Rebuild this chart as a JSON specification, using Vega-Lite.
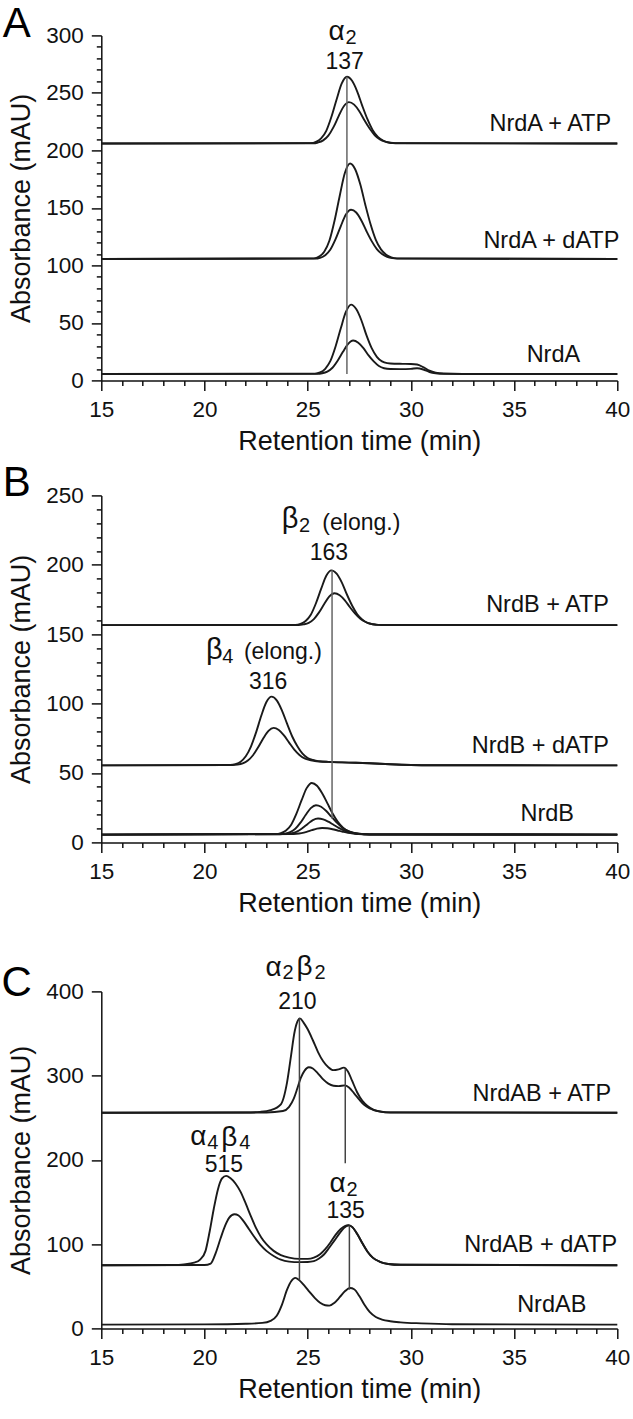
{
"$schema": "https://vega.github.io/schema/vega-lite/v6.json",
"background": "white",
"padding": {"left": 1.3, "top": 2.4, "right": 0, "bottom": 0},
"config": {
  "view": {"stroke": null},
  "font": "Liberation Sans",
  "axis": {"domainColor": "#111", "domainWidth": 1.5, "tickColor": "#111", "tickWidth": 1.5, "labelColor": "#111", "titleColor": "#111", "labelFont": "Liberation Sans", "titleFont": "Liberation Sans", "labelFontSize": 22.5, "titleFontSize": 27, "titleFontWeight": "normal", "grid": false, "labelOverlap": false, "labelFlush": false, "labelPadding": 8},
  "axisX": {"titlePadding": 8},
  "axisY": {"titlePadding": 10}
},
"datasets": {
"curvesA": [
{"trace":"ATP1","t":15,"a":206},{"trace":"ATP1","t":25.15,"a":206.3},{"trace":"ATP1","t":25.4,"a":207.4},{"trace":"ATP1","t":25.65,"a":210.4},{"trace":"ATP1","t":25.9,"a":217},{"trace":"ATP1","t":26.15,"a":229.2},{"trace":"ATP1","t":26.4,"a":244.3},{"trace":"ATP1","t":26.65,"a":258.2},{"trace":"ATP1","t":26.9,"a":264},{"trace":"ATP1","t":27.15,"a":260.5},{"trace":"ATP1","t":27.4,"a":251.2},{"trace":"ATP1","t":27.65,"a":238.5},{"trace":"ATP1","t":27.9,"a":226.9},{"trace":"ATP1","t":28.15,"a":217.6},{"trace":"ATP1","t":28.4,"a":211.8},{"trace":"ATP1","t":28.65,"a":208.6},{"trace":"ATP1","t":28.9,"a":207},{"trace":"ATP1","t":29.15,"a":206.3},{"trace":"ATP1","t":40,"a":206},
{"trace":"ATP2","t":15,"a":206},{"trace":"ATP2","t":25.25,"a":206.2},{"trace":"ATP2","t":25.5,"a":206.9},{"trace":"ATP2","t":25.75,"a":208.7},{"trace":"ATP2","t":26,"a":212.8},{"trace":"ATP2","t":26.25,"a":220.2},{"trace":"ATP2","t":26.5,"a":229.8},{"trace":"ATP2","t":26.75,"a":238.4},{"trace":"ATP2","t":27,"a":242},{"trace":"ATP2","t":27.25,"a":239.8},{"trace":"ATP2","t":27.5,"a":234.1},{"trace":"ATP2","t":27.75,"a":226.2},{"trace":"ATP2","t":28,"a":219},{"trace":"ATP2","t":28.25,"a":213.2},{"trace":"ATP2","t":28.5,"a":209.6},{"trace":"ATP2","t":28.75,"a":207.6},{"trace":"ATP2","t":29,"a":206.6},{"trace":"ATP2","t":29.25,"a":206.2},{"trace":"ATP2","t":40,"a":206},
{"trace":"dATP1","t":15,"a":105.6},{"trace":"dATP1","t":25.3,"a":106.1},{"trace":"dATP1","t":25.55,"a":107.6},{"trace":"dATP1","t":25.8,"a":111.9},{"trace":"dATP1","t":26.05,"a":121.4},{"trace":"dATP1","t":26.3,"a":138.8},{"trace":"dATP1","t":26.55,"a":160.4},{"trace":"dATP1","t":26.8,"a":180.3},{"trace":"dATP1","t":27.05,"a":188.6},{"trace":"dATP1","t":27.3,"a":183.6},{"trace":"dATP1","t":27.55,"a":170.3},{"trace":"dATP1","t":27.8,"a":152.1},{"trace":"dATP1","t":28.05,"a":135.5},{"trace":"dATP1","t":28.3,"a":122.2},{"trace":"dATP1","t":28.55,"a":113.9},{"trace":"dATP1","t":28.8,"a":109.3},{"trace":"dATP1","t":29.05,"a":107},{"trace":"dATP1","t":29.3,"a":106.1},{"trace":"dATP1","t":40,"a":105.6},
{"trace":"dATP2","t":15,"a":105.6},{"trace":"dATP2","t":25.35,"a":105.9},{"trace":"dATP2","t":25.6,"a":106.6},{"trace":"dATP2","t":25.85,"a":108.9},{"trace":"dATP2","t":26.1,"a":113.8},{"trace":"dATP2","t":26.35,"a":122.8},{"trace":"dATP2","t":26.6,"a":134},{"trace":"dATP2","t":26.85,"a":144.3},{"trace":"dATP2","t":27.1,"a":148.4},{"trace":"dATP2","t":27.35,"a":146},{"trace":"dATP2","t":27.6,"a":139.1},{"trace":"dATP2","t":27.85,"a":129.7},{"trace":"dATP2","t":28.1,"a":121.1},{"trace":"dATP2","t":28.35,"a":114.2},{"trace":"dATP2","t":28.6,"a":109.9},{"trace":"dATP2","t":28.85,"a":107.5},{"trace":"dATP2","t":29.1,"a":106.3},{"trace":"dATP2","t":29.35,"a":105.9},{"trace":"dATP2","t":40,"a":105.6},
{"trace":"A1","t":15,"a":5.5},{"trace":"A1","t":25.35,"a":5.9},{"trace":"A1","t":25.6,"a":6.9},{"trace":"A1","t":25.85,"a":10.1},{"trace":"A1","t":26.1,"a":16.9},{"trace":"A1","t":26.35,"a":29.5},{"trace":"A1","t":26.6,"a":45.1},{"trace":"A1","t":26.85,"a":59.5},{"trace":"A1","t":27.1,"a":65.9},{"trace":"A1","t":27.35,"a":62},{"trace":"A1","t":27.6,"a":52.3},{"trace":"A1","t":27.85,"a":39.1},{"trace":"A1","t":28.1,"a":28},{"trace":"A1","t":28.35,"a":20.5},{"trace":"A1","t":28.6,"a":16.5},{"trace":"A1","t":28.85,"a":15},{"trace":"A1","t":29.2,"a":14.5},{"trace":"A1","t":29.6,"a":14.4},{"trace":"A1","t":30,"a":14.3},{"trace":"A1","t":30.3,"a":13.8},{"trace":"A1","t":30.6,"a":11.5},{"trace":"A1","t":30.9,"a":8.5},{"trace":"A1","t":31.2,"a":6.8},{"trace":"A1","t":31.6,"a":6},{"trace":"A1","t":32.5,"a":5.6},{"trace":"A1","t":40,"a":5.5},
{"trace":"A2","t":15,"a":5.5},{"trace":"A2","t":25.45,"a":5.7},{"trace":"A2","t":25.7,"a":6.2},{"trace":"A2","t":25.95,"a":7.7},{"trace":"A2","t":26.2,"a":11},{"trace":"A2","t":26.45,"a":17.1},{"trace":"A2","t":26.7,"a":24.6},{"trace":"A2","t":26.95,"a":31.6},{"trace":"A2","t":27.2,"a":34.7},{"trace":"A2","t":27.45,"a":32.8},{"trace":"A2","t":27.7,"a":28.1},{"trace":"A2","t":27.95,"a":21.7},{"trace":"A2","t":28.2,"a":16.5},{"trace":"A2","t":28.45,"a":12.5},{"trace":"A2","t":28.7,"a":10.6},{"trace":"A2","t":29,"a":9.9},{"trace":"A2","t":29.5,"a":9.8},{"trace":"A2","t":30,"a":10},{"trace":"A2","t":30.3,"a":10.6},{"trace":"A2","t":30.6,"a":9.5},{"trace":"A2","t":30.9,"a":7.3},{"trace":"A2","t":31.2,"a":6.2},{"trace":"A2","t":31.6,"a":5.7},{"trace":"A2","t":40,"a":5.5}
],
"curvesB": [
{"trace":"ATP1","t":15,"a":156.5},{"trace":"ATP1","t":24.4,"a":156.7},{"trace":"ATP1","t":24.65,"a":157.4},{"trace":"ATP1","t":24.9,"a":159.5},{"trace":"ATP1","t":25.15,"a":164},{"trace":"ATP1","t":25.4,"a":172.3},{"trace":"ATP1","t":25.65,"a":182.6},{"trace":"ATP1","t":25.9,"a":192.1},{"trace":"ATP1","t":26.15,"a":196},{"trace":"ATP1","t":26.4,"a":193.6},{"trace":"ATP1","t":26.65,"a":187.3},{"trace":"ATP1","t":26.9,"a":178.6},{"trace":"ATP1","t":27.15,"a":170.7},{"trace":"ATP1","t":27.4,"a":164.4},{"trace":"ATP1","t":27.65,"a":160.5},{"trace":"ATP1","t":27.9,"a":158.2},{"trace":"ATP1","t":28.15,"a":157.2},{"trace":"ATP1","t":28.4,"a":156.7},{"trace":"ATP1","t":40,"a":156.5},
{"trace":"ATP2","t":15,"a":156.5},{"trace":"ATP2","t":24.55,"a":156.6},{"trace":"ATP2","t":24.8,"a":157.1},{"trace":"ATP2","t":25.05,"a":158.2},{"trace":"ATP2","t":25.3,"a":160.9},{"trace":"ATP2","t":25.55,"a":165.7},{"trace":"ATP2","t":25.8,"a":171.7},{"trace":"ATP2","t":26.05,"a":177.2},{"trace":"ATP2","t":26.3,"a":179.5},{"trace":"ATP2","t":26.55,"a":178.1},{"trace":"ATP2","t":26.8,"a":174.4},{"trace":"ATP2","t":27.05,"a":169.4},{"trace":"ATP2","t":27.3,"a":164.8},{"trace":"ATP2","t":27.55,"a":161.1},{"trace":"ATP2","t":27.8,"a":158.8},{"trace":"ATP2","t":28.05,"a":157.5},{"trace":"ATP2","t":28.3,"a":156.9},{"trace":"ATP2","t":28.55,"a":156.6},{"trace":"ATP2","t":40,"a":156.5},
{"trace":"dATP1","t":15,"a":55.5},{"trace":"dATP1","t":21.25,"a":55.8},{"trace":"dATP1","t":21.5,"a":56.4},{"trace":"dATP1","t":21.75,"a":58.1},{"trace":"dATP1","t":22,"a":62},{"trace":"dATP1","t":22.25,"a":69},{"trace":"dATP1","t":22.5,"a":79.3},{"trace":"dATP1","t":22.75,"a":91.2},{"trace":"dATP1","t":23,"a":101.1},{"trace":"dATP1","t":23.25,"a":105},{"trace":"dATP1","t":23.5,"a":102.3},{"trace":"dATP1","t":23.75,"a":95.1},{"trace":"dATP1","t":24,"a":85.5},{"trace":"dATP1","t":24.25,"a":76.3},{"trace":"dATP1","t":24.5,"a":69.3},{"trace":"dATP1","t":24.75,"a":63.9},{"trace":"dATP1","t":25,"a":60.8},{"trace":"dATP1","t":25.25,"a":59.4},{"trace":"dATP1","t":25.5,"a":58.5},{"trace":"dATP1","t":26,"a":58},{"trace":"dATP1","t":27,"a":57.5},{"trace":"dATP1","t":28,"a":57},{"trace":"dATP1","t":29,"a":56.3},{"trace":"dATP1","t":30,"a":55.8},{"trace":"dATP1","t":31,"a":55.6},{"trace":"dATP1","t":40,"a":55.5},
{"trace":"dATP2","t":15,"a":55.5},{"trace":"dATP2","t":21.35,"a":55.7},{"trace":"dATP2","t":21.6,"a":56},{"trace":"dATP2","t":21.85,"a":56.9},{"trace":"dATP2","t":22.1,"a":59},{"trace":"dATP2","t":22.35,"a":62.8},{"trace":"dATP2","t":22.6,"a":68.5},{"trace":"dATP2","t":22.85,"a":75},{"trace":"dATP2","t":23.1,"a":80.4},{"trace":"dATP2","t":23.35,"a":82.5},{"trace":"dATP2","t":23.6,"a":81},{"trace":"dATP2","t":23.85,"a":77.1},{"trace":"dATP2","t":24.1,"a":71.9},{"trace":"dATP2","t":24.35,"a":66.8},{"trace":"dATP2","t":24.6,"a":63},{"trace":"dATP2","t":24.85,"a":60.5},{"trace":"dATP2","t":25.1,"a":59.3},{"trace":"dATP2","t":25.35,"a":58.6},{"trace":"dATP2","t":25.6,"a":58.3},{"trace":"dATP2","t":26,"a":58},{"trace":"dATP2","t":27,"a":57.5},{"trace":"dATP2","t":28,"a":57},{"trace":"dATP2","t":29,"a":56.3},{"trace":"dATP2","t":30,"a":55.8},{"trace":"dATP2","t":31,"a":55.6},{"trace":"dATP2","t":40,"a":55.5},
{"trace":"B1","t":15,"a":5.6},{"trace":"B1","t":23.45,"a":6},{"trace":"B1","t":23.7,"a":6.7},{"trace":"B1","t":23.95,"a":8.6},{"trace":"B1","t":24.2,"a":12.8},{"trace":"B1","t":24.45,"a":20.6},{"trace":"B1","t":24.7,"a":30.2},{"trace":"B1","t":24.95,"a":39.1},{"trace":"B1","t":25.2,"a":42.8},{"trace":"B1","t":25.45,"a":40.8},{"trace":"B1","t":25.7,"a":35.4},{"trace":"B1","t":25.95,"a":28.3},{"trace":"B1","t":26.2,"a":21},{"trace":"B1","t":26.45,"a":15},{"trace":"B1","t":26.7,"a":10.8},{"trace":"B1","t":26.95,"a":8.2},{"trace":"B1","t":27.2,"a":6.9},{"trace":"B1","t":27.45,"a":6.2},{"trace":"B1","t":28,"a":5.8},{"trace":"B1","t":40,"a":5.6},
{"trace":"B2","t":15,"a":5.6},{"trace":"B2","t":23.65,"a":5.9},{"trace":"B2","t":23.9,"a":6.3},{"trace":"B2","t":24.15,"a":7.4},{"trace":"B2","t":24.4,"a":9.8},{"trace":"B2","t":24.65,"a":14.2},{"trace":"B2","t":24.9,"a":19.7},{"trace":"B2","t":25.15,"a":24.7},{"trace":"B2","t":25.4,"a":26.8},{"trace":"B2","t":25.65,"a":25.7},{"trace":"B2","t":25.9,"a":22.6},{"trace":"B2","t":26.15,"a":18.5},{"trace":"B2","t":26.4,"a":14.4},{"trace":"B2","t":26.65,"a":11},{"trace":"B2","t":26.9,"a":8.6},{"trace":"B2","t":27.15,"a":7.2},{"trace":"B2","t":27.4,"a":6.4},{"trace":"B2","t":27.65,"a":6},{"trace":"B2","t":28,"a":5.7},{"trace":"B2","t":40,"a":5.6},
{"trace":"B3","t":15,"a":5.6},{"trace":"B3","t":24,"a":6.1},{"trace":"B3","t":24.25,"a":6.7},{"trace":"B3","t":24.5,"a":8},{"trace":"B3","t":24.75,"a":10.4},{"trace":"B3","t":25,"a":13.3},{"trace":"B3","t":25.25,"a":16.1},{"trace":"B3","t":25.5,"a":17.2},{"trace":"B3","t":25.75,"a":16.6},{"trace":"B3","t":26,"a":14.9},{"trace":"B3","t":26.25,"a":12.7},{"trace":"B3","t":26.5,"a":10.5},{"trace":"B3","t":26.75,"a":8.6},{"trace":"B3","t":27,"a":7.3},{"trace":"B3","t":27.25,"a":6.6},{"trace":"B3","t":27.5,"a":6.1},{"trace":"B3","t":28,"a":5.7},{"trace":"B3","t":40,"a":5.6},
{"trace":"B4","t":15,"a":5.6},{"trace":"B4","t":24.2,"a":6},{"trace":"B4","t":24.45,"a":6.2},{"trace":"B4","t":24.7,"a":6.7},{"trace":"B4","t":24.95,"a":7.6},{"trace":"B4","t":25.2,"a":8.8},{"trace":"B4","t":25.45,"a":9.9},{"trace":"B4","t":25.7,"a":10.4},{"trace":"B4","t":25.95,"a":10.2},{"trace":"B4","t":26.2,"a":9.5},{"trace":"B4","t":26.45,"a":8.6},{"trace":"B4","t":26.7,"a":7.7},{"trace":"B4","t":26.95,"a":6.9},{"trace":"B4","t":27.2,"a":6.4},{"trace":"B4","t":27.45,"a":6.1},{"trace":"B4","t":28,"a":5.8},{"trace":"B4","t":40,"a":5.6}
],
"curvesC": [
{"trace":"ATP1","t":15,"a":256},{"trace":"ATP1","t":22,"a":256.2},{"trace":"ATP1","t":22.7,"a":257},{"trace":"ATP1","t":23.2,"a":259},{"trace":"ATP1","t":23.7,"a":266},{"trace":"ATP1","t":24,"a":292},{"trace":"ATP1","t":24.2,"a":325},{"trace":"ATP1","t":24.35,"a":350},{"trace":"ATP1","t":24.5,"a":364},{"trace":"ATP1","t":24.62,"a":368},{"trace":"ATP1","t":24.8,"a":363},{"trace":"ATP1","t":25,"a":355},{"trace":"ATP1","t":25.25,"a":342},{"trace":"ATP1","t":25.5,"a":328},{"trace":"ATP1","t":25.75,"a":317},{"trace":"ATP1","t":26,"a":310},{"trace":"ATP1","t":26.25,"a":306.5},{"trace":"ATP1","t":26.5,"a":307.5},{"trace":"ATP1","t":26.75,"a":309.5},{"trace":"ATP1","t":26.95,"a":305},{"trace":"ATP1","t":27.15,"a":294},{"trace":"ATP1","t":27.4,"a":280},{"trace":"ATP1","t":27.65,"a":270},{"trace":"ATP1","t":27.9,"a":264},{"trace":"ATP1","t":28.2,"a":259.5},{"trace":"ATP1","t":28.5,"a":257.5},{"trace":"ATP1","t":29,"a":256.4},{"trace":"ATP1","t":40,"a":256},
{"trace":"ATP2","t":15,"a":256},{"trace":"ATP2","t":23,"a":256.3},{"trace":"ATP2","t":23.8,"a":258},{"trace":"ATP2","t":24.1,"a":263},{"trace":"ATP2","t":24.33,"a":273},{"trace":"ATP2","t":24.5,"a":285},{"trace":"ATP2","t":24.66,"a":297},{"trace":"ATP2","t":24.85,"a":306},{"trace":"ATP2","t":25.05,"a":310},{"trace":"ATP2","t":25.25,"a":308.5},{"trace":"ATP2","t":25.5,"a":302.5},{"trace":"ATP2","t":25.75,"a":295.5},{"trace":"ATP2","t":26,"a":290.5},{"trace":"ATP2","t":26.25,"a":288},{"trace":"ATP2","t":26.5,"a":287.5},{"trace":"ATP2","t":26.8,"a":288.5},{"trace":"ATP2","t":27,"a":286},{"trace":"ATP2","t":27.25,"a":279},{"trace":"ATP2","t":27.5,"a":271.5},{"trace":"ATP2","t":27.75,"a":265},{"trace":"ATP2","t":28,"a":261},{"trace":"ATP2","t":28.25,"a":258.8},{"trace":"ATP2","t":28.6,"a":257},{"trace":"ATP2","t":29,"a":256.3},{"trace":"ATP2","t":40,"a":256},
{"trace":"dATP1","t":15,"a":75},{"trace":"dATP1","t":18.5,"a":75.3},{"trace":"dATP1","t":19,"a":76},{"trace":"dATP1","t":19.5,"a":78},{"trace":"dATP1","t":19.8,"a":82},{"trace":"dATP1","t":20.05,"a":92},{"trace":"dATP1","t":20.25,"a":115},{"trace":"dATP1","t":20.45,"a":142},{"trace":"dATP1","t":20.65,"a":165},{"trace":"dATP1","t":20.85,"a":178},{"trace":"dATP1","t":21.05,"a":181},{"trace":"dATP1","t":21.25,"a":178.5},{"trace":"dATP1","t":21.5,"a":172},{"trace":"dATP1","t":21.75,"a":162},{"trace":"dATP1","t":22,"a":148},{"trace":"dATP1","t":22.25,"a":133},{"trace":"dATP1","t":22.5,"a":119},{"trace":"dATP1","t":22.75,"a":108},{"trace":"dATP1","t":23,"a":100},{"trace":"dATP1","t":23.35,"a":92},{"trace":"dATP1","t":23.7,"a":87},{"trace":"dATP1","t":24.1,"a":84},{"trace":"dATP1","t":24.6,"a":82.5},{"trace":"dATP1","t":25,"a":82.5},{"trace":"dATP1","t":25.3,"a":84},{"trace":"dATP1","t":25.6,"a":88},{"trace":"dATP1","t":25.85,"a":94},{"trace":"dATP1","t":26.1,"a":102},{"trace":"dATP1","t":26.35,"a":111},{"trace":"dATP1","t":26.6,"a":118},{"trace":"dATP1","t":26.8,"a":121.5},{"trace":"dATP1","t":26.97,"a":122.5},{"trace":"dATP1","t":27.15,"a":120.5},{"trace":"dATP1","t":27.4,"a":112},{"trace":"dATP1","t":27.65,"a":101},{"trace":"dATP1","t":27.9,"a":91},{"trace":"dATP1","t":28.15,"a":84},{"trace":"dATP1","t":28.5,"a":79},{"trace":"dATP1","t":28.9,"a":76.5},{"trace":"dATP1","t":29.5,"a":75.5},{"trace":"dATP1","t":40,"a":75},
{"trace":"dATP2","t":15,"a":75},{"trace":"dATP2","t":20,"a":75.3},{"trace":"dATP2","t":20.3,"a":77},{"trace":"dATP2","t":20.55,"a":90},{"trace":"dATP2","t":20.78,"a":107},{"trace":"dATP2","t":21,"a":122},{"trace":"dATP2","t":21.2,"a":131.5},{"trace":"dATP2","t":21.45,"a":135.5},{"trace":"dATP2","t":21.65,"a":134},{"trace":"dATP2","t":21.9,"a":127},{"trace":"dATP2","t":22.15,"a":118},{"trace":"dATP2","t":22.4,"a":109},{"trace":"dATP2","t":22.7,"a":99.5},{"trace":"dATP2","t":23,"a":92},{"trace":"dATP2","t":23.35,"a":86},{"trace":"dATP2","t":23.7,"a":81.5},{"trace":"dATP2","t":24.1,"a":79.3},{"trace":"dATP2","t":24.6,"a":78.7},{"trace":"dATP2","t":25,"a":78.8},{"trace":"dATP2","t":25.3,"a":79.8},{"trace":"dATP2","t":25.55,"a":83},{"trace":"dATP2","t":25.8,"a":88},{"trace":"dATP2","t":26.05,"a":96},{"trace":"dATP2","t":26.3,"a":104.5},{"trace":"dATP2","t":26.55,"a":113},{"trace":"dATP2","t":26.75,"a":119},{"trace":"dATP2","t":26.97,"a":122.3},{"trace":"dATP2","t":27.15,"a":120.5},{"trace":"dATP2","t":27.4,"a":112},{"trace":"dATP2","t":27.65,"a":101},{"trace":"dATP2","t":27.9,"a":91},{"trace":"dATP2","t":28.15,"a":84},{"trace":"dATP2","t":28.5,"a":79},{"trace":"dATP2","t":28.9,"a":76.5},{"trace":"dATP2","t":29.5,"a":75.5},{"trace":"dATP2","t":40,"a":75},
{"trace":"AB","t":15,"a":4.5},{"trace":"AB","t":20,"a":4.8},{"trace":"AB","t":22,"a":5.5},{"trace":"AB","t":22.8,"a":6.5},{"trace":"AB","t":23.2,"a":9},{"trace":"AB","t":23.5,"a":15},{"trace":"AB","t":23.75,"a":28},{"trace":"AB","t":24,"a":46},{"trace":"AB","t":24.2,"a":56},{"trace":"AB","t":24.4,"a":60},{"trace":"AB","t":24.6,"a":57},{"trace":"AB","t":24.85,"a":50.5},{"trace":"AB","t":25.1,"a":43},{"trace":"AB","t":25.35,"a":36},{"trace":"AB","t":25.6,"a":30.5},{"trace":"AB","t":25.85,"a":27.5},{"trace":"AB","t":26.05,"a":27},{"trace":"AB","t":26.3,"a":30.5},{"trace":"AB","t":26.55,"a":37},{"trace":"AB","t":26.8,"a":44},{"trace":"AB","t":27.05,"a":48},{"trace":"AB","t":27.25,"a":46.5},{"trace":"AB","t":27.5,"a":38.5},{"trace":"AB","t":27.75,"a":28},{"trace":"AB","t":28,"a":19.5},{"trace":"AB","t":28.3,"a":13.5},{"trace":"AB","t":28.6,"a":10.5},{"trace":"AB","t":29,"a":8.5},{"trace":"AB","t":29.5,"a":7.2},{"trace":"AB","t":30.5,"a":6},{"trace":"AB","t":32,"a":5},{"trace":"AB","t":40,"a":4.5}
],
"rulesA": [{"t":26.9,"a":5.5,"a2":264}],
"rulesB": [{"t":26.18,"a":17,"a2":196}],
"rulesC": [{"t":24.6,"a":57,"a2":368},{"t":26.82,"a":196,"a2":308},{"t":27.02,"a":46,"a2":122}],
"textA": [
{"t":10.9,"a":298.3,"label":"A","kind":"panel"},
{"t":26.4,"a":302.6,"label":"α","kind":"greek"},
{"t":27.1,"a":297.7,"label":"2","kind":"sub"},
{"t":26.79,"a":276.7,"label":"137","kind":"num"},
{"t":39.7,"a":222.8,"label":"NrdA + ATP","kind":"series"},
{"t":40.1,"a":120.9,"label":"NrdA + dATP","kind":"series"},
{"t":38.2,"a":21.8,"label":"NrdA","kind":"series"}
],
"textB": [
{"t":10.9,"a":249.3,"label":"B","kind":"panel"},
{"t":24.15,"a":232.7,"label":"β","kind":"greek"},
{"t":24.85,"a":227.7,"label":"2","kind":"sub"},
{"t":25.71,"a":230,"label":"(elong.)","kind":"note"},
{"t":26.03,"a":208.5,"label":"163","kind":"num"},
{"t":20.48,"a":138.3,"label":"β","kind":"greek"},
{"t":21.13,"a":133.4,"label":"4","kind":"sub"},
{"t":21.91,"a":136.9,"label":"(elong.)","kind":"note"},
{"t":23.08,"a":115.5,"label":"316","kind":"num"},
{"t":39.6,"a":171.1,"label":"NrdB + ATP","kind":"series"},
{"t":39.6,"a":69.2,"label":"NrdB + dATP","kind":"series"},
{"t":37.9,"a":20.6,"label":"NrdB","kind":"series"}
],
"textC": [
{"t":10.9,"a":394.1,"label":"C","kind":"panel"},
{"t":23.35,"a":427.5,"label":"α","kind":"greek"},
{"t":24.05,"a":421.5,"label":"2","kind":"sub"},
{"t":24.85,"a":428.5,"label":"β","kind":"greek"},
{"t":25.6,"a":421.5,"label":"2","kind":"sub"},
{"t":24.5,"a":388,"label":"210","kind":"num"},
{"t":19.7,"a":227,"label":"α","kind":"greek"},
{"t":20.4,"a":219.5,"label":"4","kind":"sub"},
{"t":21.2,"a":226.5,"label":"β","kind":"greek"},
{"t":21.95,"a":219.5,"label":"4","kind":"sub"},
{"t":20.94,"a":194,"label":"515","kind":"num"},
{"t":26.45,"a":171.5,"label":"α","kind":"greek"},
{"t":27.15,"a":164.6,"label":"2","kind":"sub"},
{"t":26.84,"a":139,"label":"135","kind":"num"},
{"t":39.7,"a":277.7,"label":"NrdAB + ATP","kind":"series"},
{"t":40,"a":99,"label":"NrdAB + dATP","kind":"series"},
{"t":38.5,"a":27.2,"label":"NrdAB","kind":"series"}
]
},
"spacing": 0,
"bounds": "flush",
"vconcat": [
{
"width": 516, "height": 345,
"resolve": {"axis": {"x": "independent", "y": "independent"}},
"layer": [
{"data": {"name": "curvesA"}, "mark": {"type": "line", "color": "#1a1a1a", "strokeWidth": 1.9, "interpolate": "monotone"},
 "encoding": {
  "x": {"field": "t", "type": "quantitative", "title": "Retention time (min)", "scale": {"domain": [15, 40], "nice": false, "zero": false},
        "axis": {"orient": "bottom", "values": [15,20,25,30,35,40], "tickSize": 10}},
  "y": {"field": "a", "type": "quantitative", "title": "Absorbance (mAU)", "scale": {"domain": [0, 300], "nice": false},
        "axis": {"orient": "left", "values": [0,50,100,150,200,250,300], "tickSize": 10}},
  "detail": {"field": "trace", "type": "nominal"}
 }},
{"data": {"name": "rulesA"}, "mark": {"type": "rule", "color": "#666", "strokeWidth": 1.5},
 "encoding": {
  "x": {"field": "t", "type": "quantitative", "axis": {"orient": "bottom", "values": [16,17,18,19,21,22,23,24,26,27,28,29,31,32,33,34,36,37,38,39], "tickSize": 5, "labels": false, "domain": false, "title": null}},
  "y": {"field": "a", "type": "quantitative", "axis": {"orient": "left", "values": [10,20,30,40,60,70,80,90,110,120,130,140,160,170,180,190,210,220,230,240,260,270,280,290], "tickSize": 5, "labels": false, "domain": false, "title": null}},
  "y2": {"field": "a2"}}},
{"data": {"name": "textA"}, "transform": [{"filter": "datum.kind === 'series'"}], "mark": {"type": "text", "align": "right", "baseline": "middle", "fontSize": 23.5, "color": "#111"},
 "encoding": {"x": {"field": "t", "type": "quantitative", "axis": null}, "y": {"field": "a", "type": "quantitative", "axis": null}, "text": {"field": "label"}}},
{"data": {"name": "textA"}, "transform": [{"filter": "datum.kind === 'num'"}], "mark": {"type": "text", "align": "center", "baseline": "middle", "fontSize": 23, "color": "#111"},
 "encoding": {"x": {"field": "t", "type": "quantitative", "axis": null}, "y": {"field": "a", "type": "quantitative", "axis": null}, "text": {"field": "label"}}},
{"data": {"name": "textA"}, "transform": [{"filter": "datum.kind === 'greek'"}], "mark": {"type": "text", "align": "center", "baseline": "middle", "fontSize": 28, "color": "#111"},
 "encoding": {"x": {"field": "t", "type": "quantitative", "axis": null}, "y": {"field": "a", "type": "quantitative", "axis": null}, "text": {"field": "label"}}},
{"data": {"name": "textA"}, "transform": [{"filter": "datum.kind === 'sub'"}], "mark": {"type": "text", "align": "center", "baseline": "middle", "fontSize": 20, "color": "#111"},
 "encoding": {"x": {"field": "t", "type": "quantitative", "axis": null}, "y": {"field": "a", "type": "quantitative", "axis": null}, "text": {"field": "label"}}},
{"data": {"name": "textA"}, "transform": [{"filter": "datum.kind === 'panel'"}], "mark": {"type": "text", "align": "center", "baseline": "alphabetic", "fontSize": 42, "color": "#000"},
 "encoding": {"x": {"field": "t", "type": "quantitative", "axis": null}, "y": {"field": "a", "type": "quantitative", "axis": null}, "text": {"field": "label"}}}
]
},
{"width": 516, "height": 115, "data": {"values": []}, "mark": {"type": "rect", "opacity": 0}, "encoding": {}},
{
"width": 516, "height": 347,
"resolve": {"axis": {"x": "independent", "y": "independent"}},
"layer": [
{"data": {"name": "curvesB"}, "mark": {"type": "line", "color": "#1a1a1a", "strokeWidth": 1.9, "interpolate": "monotone"},
 "encoding": {
  "x": {"field": "t", "type": "quantitative", "title": "Retention time (min)", "scale": {"domain": [15, 40], "nice": false, "zero": false},
        "axis": {"orient": "bottom", "values": [15,20,25,30,35,40], "tickSize": 10}},
  "y": {"field": "a", "type": "quantitative", "title": "Absorbance (mAU)", "scale": {"domain": [0, 250], "nice": false},
        "axis": {"orient": "left", "values": [0,50,100,150,200,250], "tickSize": 10}},
  "detail": {"field": "trace", "type": "nominal"}
 }},
{"data": {"name": "rulesB"}, "mark": {"type": "rule", "color": "#666", "strokeWidth": 1.5},
 "encoding": {
  "x": {"field": "t", "type": "quantitative", "axis": {"orient": "bottom", "values": [16,17,18,19,21,22,23,24,26,27,28,29,31,32,33,34,36,37,38,39], "tickSize": 5, "labels": false, "domain": false, "title": null}},
  "y": {"field": "a", "type": "quantitative", "axis": {"orient": "left", "values": [10,20,30,40,60,70,80,90,110,120,130,140,160,170,180,190,210,220,230,240], "tickSize": 5, "labels": false, "domain": false, "title": null}},
  "y2": {"field": "a2"}}},
{"data": {"name": "textB"}, "transform": [{"filter": "datum.kind === 'series'"}], "mark": {"type": "text", "align": "right", "baseline": "middle", "fontSize": 23.5, "color": "#111"},
 "encoding": {"x": {"field": "t", "type": "quantitative", "axis": null}, "y": {"field": "a", "type": "quantitative", "axis": null}, "text": {"field": "label"}}},
{"data": {"name": "textB"}, "transform": [{"filter": "datum.kind === 'note'"}], "mark": {"type": "text", "align": "left", "baseline": "middle", "fontSize": 23, "color": "#111"},
 "encoding": {"x": {"field": "t", "type": "quantitative", "axis": null}, "y": {"field": "a", "type": "quantitative", "axis": null}, "text": {"field": "label"}}},
{"data": {"name": "textB"}, "transform": [{"filter": "datum.kind === 'num'"}], "mark": {"type": "text", "align": "center", "baseline": "middle", "fontSize": 23, "color": "#111"},
 "encoding": {"x": {"field": "t", "type": "quantitative", "axis": null}, "y": {"field": "a", "type": "quantitative", "axis": null}, "text": {"field": "label"}}},
{"data": {"name": "textB"}, "transform": [{"filter": "datum.kind === 'greek'"}], "mark": {"type": "text", "align": "center", "baseline": "middle", "fontSize": 29, "color": "#111"},
 "encoding": {"x": {"field": "t", "type": "quantitative", "axis": null}, "y": {"field": "a", "type": "quantitative", "axis": null}, "text": {"field": "label"}}},
{"data": {"name": "textB"}, "transform": [{"filter": "datum.kind === 'sub'"}], "mark": {"type": "text", "align": "center", "baseline": "middle", "fontSize": 20, "color": "#111"},
 "encoding": {"x": {"field": "t", "type": "quantitative", "axis": null}, "y": {"field": "a", "type": "quantitative", "axis": null}, "text": {"field": "label"}}},
{"data": {"name": "textB"}, "transform": [{"filter": "datum.kind === 'panel'"}], "mark": {"type": "text", "align": "center", "baseline": "alphabetic", "fontSize": 42, "color": "#000"},
 "encoding": {"x": {"field": "t", "type": "quantitative", "axis": null}, "y": {"field": "a", "type": "quantitative", "axis": null}, "text": {"field": "label"}}}
]
},
{"width": 516, "height": 149, "data": {"values": []}, "mark": {"type": "rect", "opacity": 0}, "encoding": {}},
{
"width": 516, "height": 337,
"resolve": {"axis": {"x": "independent", "y": "independent"}},
"layer": [
{"data": {"name": "curvesC"}, "mark": {"type": "line", "color": "#1a1a1a", "strokeWidth": 1.9, "interpolate": "monotone"},
 "encoding": {
  "x": {"field": "t", "type": "quantitative", "title": "Retention time (min)", "scale": {"domain": [15, 40], "nice": false, "zero": false},
        "axis": {"orient": "bottom", "values": [15,20,25,30,35,40], "tickSize": 10}},
  "y": {"field": "a", "type": "quantitative", "title": "Absorbance (mAU)", "scale": {"domain": [0, 400], "nice": false},
        "axis": {"orient": "left", "values": [0,100,200,300,400], "tickSize": 10}},
  "detail": {"field": "trace", "type": "nominal"}
 }},
{"data": {"name": "rulesC"}, "mark": {"type": "rule", "color": "#444", "strokeWidth": 1.5},
 "encoding": {
  "x": {"field": "t", "type": "quantitative", "axis": {"orient": "bottom", "values": [16,17,18,19,21,22,23,24,26,27,28,29,31,32,33,34,36,37,38,39], "tickSize": 5, "labels": false, "domain": false, "title": null}},
  "y": {"field": "a", "type": "quantitative", "axis": null},
  "y2": {"field": "a2"}}},
{"data": {"name": "textC"}, "transform": [{"filter": "datum.kind === 'series'"}], "mark": {"type": "text", "align": "right", "baseline": "middle", "fontSize": 23.5, "color": "#111"},
 "encoding": {"x": {"field": "t", "type": "quantitative", "axis": null}, "y": {"field": "a", "type": "quantitative", "axis": null}, "text": {"field": "label"}}},
{"data": {"name": "textC"}, "transform": [{"filter": "datum.kind === 'num'"}], "mark": {"type": "text", "align": "center", "baseline": "middle", "fontSize": 23, "color": "#111"},
 "encoding": {"x": {"field": "t", "type": "quantitative", "axis": null}, "y": {"field": "a", "type": "quantitative", "axis": null}, "text": {"field": "label"}}},
{"data": {"name": "textC"}, "transform": [{"filter": "datum.kind === 'greek'"}], "mark": {"type": "text", "align": "center", "baseline": "middle", "fontSize": 28, "color": "#111"},
 "encoding": {"x": {"field": "t", "type": "quantitative", "axis": null}, "y": {"field": "a", "type": "quantitative", "axis": null}, "text": {"field": "label"}}},
{"data": {"name": "textC"}, "transform": [{"filter": "datum.kind === 'sub'"}], "mark": {"type": "text", "align": "center", "baseline": "middle", "fontSize": 20, "color": "#111"},
 "encoding": {"x": {"field": "t", "type": "quantitative", "axis": null}, "y": {"field": "a", "type": "quantitative", "axis": null}, "text": {"field": "label"}}},
{"data": {"name": "textC"}, "transform": [{"filter": "datum.kind === 'panel'"}], "mark": {"type": "text", "align": "center", "baseline": "alphabetic", "fontSize": 42, "color": "#000"},
 "encoding": {"x": {"field": "t", "type": "quantitative", "axis": null}, "y": {"field": "a", "type": "quantitative", "axis": null}, "text": {"field": "label"}}}
]
}
]
}
